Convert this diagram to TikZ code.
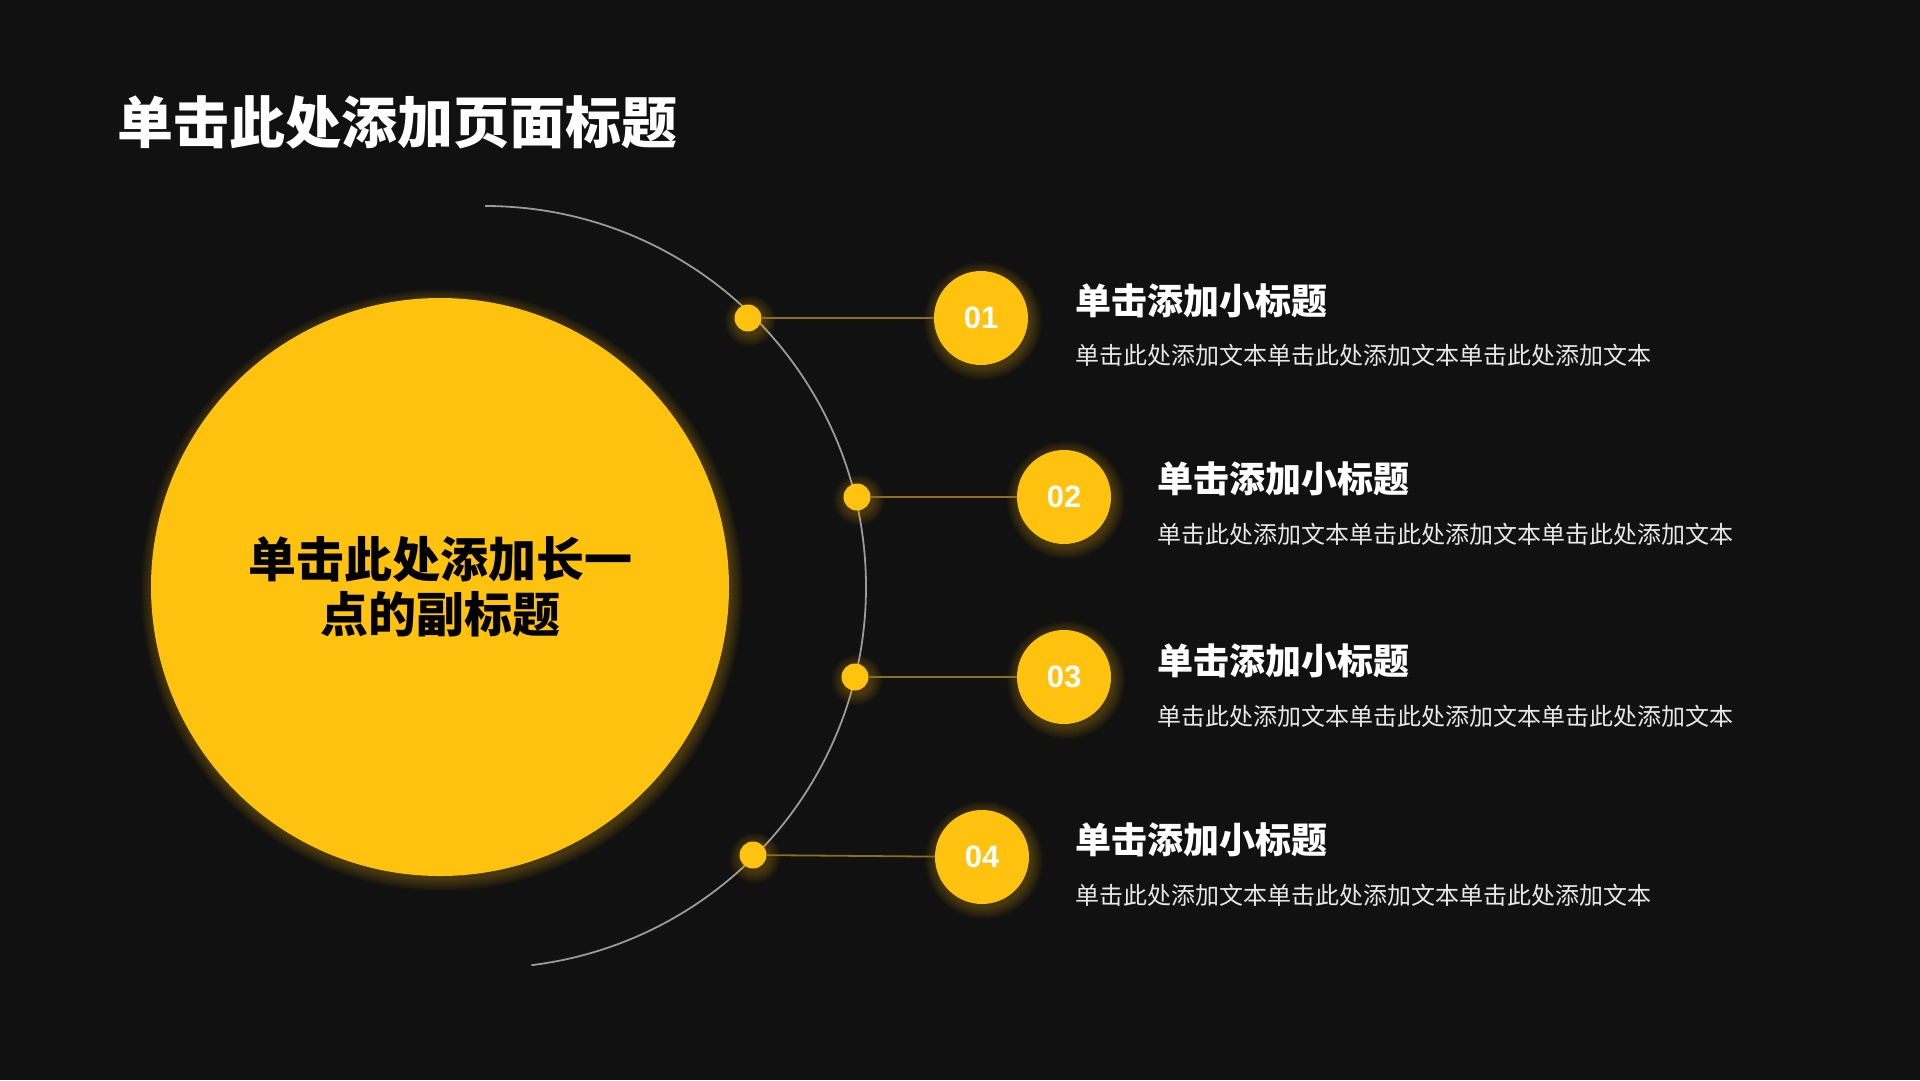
\documentclass[tikz,border=0pt]{standalone}
\usepackage{fontspec}
\setmainfont{Noto Sans CJK SC}
\newfontfamily\numfont{Liberation Sans}
\definecolor{bg}{HTML}{111111}
\definecolor{gold}{HTML}{FFC20E}
\definecolor{linegold}{HTML}{8C6E1E}
\definecolor{arcgray}{HTML}{9A9A9A}
\definecolor{bodytext}{HTML}{E8E8E8}
\begin{document}
\begin{tikzpicture}[x=1pt,y=-1pt,
  numcircle/.style={circle,fill=gold,minimum size=94pt,inner sep=0pt,text=white,font=\numfont\bfseries\fontsize{31pt}{31pt}\selectfont},
  dotnode/.style={circle,fill=gold,minimum size=27pt,inner sep=0pt},
  link/.style={draw=linegold,line width=1.8pt},
  arcline/.style={draw=arcgray,line width=1.8pt},
  heading/.style={anchor=west,inner sep=0pt,text=white,font=\bfseries\fontsize{36pt}{40pt}\selectfont},
  bodytxt/.style={anchor=west,inner sep=0pt,text=bodytext,font=\fontsize{24pt}{28pt}\selectfont},
  glowfill/.style={fill=gold,opacity=0.022}
]
\fill[bg] (0,0) rectangle (1920,1080);
\useasboundingbox (0,0) rectangle (1920,1080);

% title
\node[anchor=west,inner sep=0pt,text=white,font=\bfseries\fontsize{56pt}{60pt}\selectfont] (title) at (117,122) {单击此处添加页面标题};

% outer arc
\draw[arcline] (485,587) ++(-90:381) arc[start angle=-90,end angle=83,radius=381];

% glows
\foreach \cx/\cy/\r in {440/587/289, 981/318/47, 1064/497/47, 1064/677/47, 982/857/47, 748/318/13.5, 857/497/13.5, 855/677/13.5, 753/855/13.5}{
  \foreach \k in {1,...,12}{
    \fill[glowfill] (\cx+2,\cy+3) circle ({\r+\k});
  }
}

% main circle
\node[circle,fill=gold,minimum size=578pt,inner sep=0pt,align=center,text=black,
  font=\bfseries\fontsize{48pt}{55pt}\selectfont] (main) at (440,587) {单击此处添加长一\\点的副标题};

% dots
\node[dotnode] (d1) at (748,318) {};
\node[dotnode] (d2) at (857,497) {};
\node[dotnode] (d3) at (855,677) {};
\node[dotnode] (d4) at (753,855) {};

% number circles
\node[numcircle] (n1) at (981,318) {01};
\node[numcircle] (n2) at (1064,497) {02};
\node[numcircle] (n3) at (1064,677) {03};
\node[numcircle] (n4) at (982,857) {04};

% links
\draw[link] (d1) -- (n1);
\draw[link] (d2) -- (n2);
\draw[link] (d3) -- (n3);
\draw[link] (d4) -- (n4);

% texts
\node[heading] (h1) at (1075,301) {单击添加小标题};
\node[bodytxt] (b1) at (1075,355) {单击此处添加文本单击此处添加文本单击此处添加文本};
\node[heading] (h2) at (1157,479) {单击添加小标题};
\node[bodytxt] (b2) at (1157,534) {单击此处添加文本单击此处添加文本单击此处添加文本};
\node[heading] (h3) at (1157,661) {单击添加小标题};
\node[bodytxt] (b3) at (1157,716) {单击此处添加文本单击此处添加文本单击此处添加文本};
\node[heading] (h4) at (1075,840) {单击添加小标题};
\node[bodytxt] (b4) at (1075,895) {单击此处添加文本单击此处添加文本单击此处添加文本};
\end{tikzpicture}
\end{document}
